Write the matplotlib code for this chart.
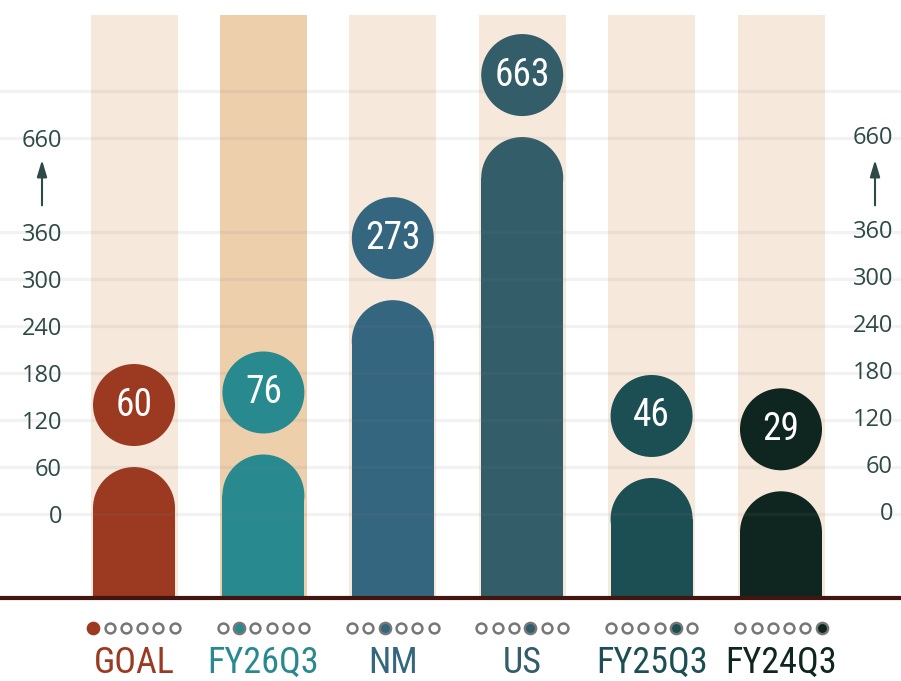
import numpy as np
import matplotlib
matplotlib.use("Agg")
import matplotlib.pyplot as plt
from matplotlib import font_manager

# data
categories = ["GOAL", "FY26Q3", "NM", "US", "FY25Q3", "FY24Q3"]
values = [60, 76, 273, 663, 46, 29]
bar_colors = ["#9b3a21", "#288a8f", "#34667f", "#335d69", "#1b4f54", "#0f2520"]
stripe_colors = ["#f7e8dc", "#edcfac", "#f7e8dc", "#f7e8dc", "#f7e8dc", "#f7e8dc"]
tick_values = [0, 60, 120, 180, 240, 300, 360, 660]
tick_labels = ["0", "60", "120", "180", "240", "300", "360", "660"]

# pick a narrow font for the big labels if there is one
names = {f.name for f in font_manager.fontManager.ttflist}
narrow = "DejaVu Sans"
for cand in ["Liberation Sans Narrow", "Roboto Condensed", "Open Sans Condensed"]:
    if cand in names:
        narrow = cand
        break
stretch = "condensed" if narrow == "DejaVu Sans" else "normal"

ink = "#2e4a47"

# broken axis: 0..360 linear, above 360 squeezed
K = 0.4
def fwd(v):
    v = np.asarray(v, dtype=float)
    return np.where(v <= 360, v, 360 + (v - 360) * K)

def inv(p):
    p = np.asarray(p, dtype=float)
    return np.where(p <= 360, p, 360 + (p - 360) / K)

fig = plt.figure(figsize=(9.01, 6.81), dpi=100)
ax = fig.add_axes([0, 83 / 681, 1, 583 / 681])
ax.set_yscale("function", functions=(fwd, inv))

y_bot = -107.2
y_top = float(inv(637.0))
ax.set_ylim(y_bot, y_top)
ax.set_xlim(-134 / 129.4, (901 - 134) / 129.4)

px_per_unit = 583 / (637.0 - y_bot)
x = np.arange(len(categories))
w_bar = 82 / 129.4
w_stripe = 87 / 129.4

# background stripes
ax.bar(x, y_top - y_bot, bottom=y_bot, width=w_stripe, color=stripe_colors, zorder=0)

# grid
grid_vals = tick_values + [810]
ax.set_yticks(grid_vals)
ax.set_yticklabels(tick_labels + [""])
ax.grid(axis="y", color="#808080", alpha=0.1, lw=2.3, zorder=1)
ax.set_axisbelow(False)
ax.tick_params(axis="y", length=0, pad=-44.6, labelsize=17, labelcolor=ink)
for lab in ax.get_yticklabels():
    lab.set_fontfamily("Open Sans")
ax.set_xticks([])
for s in ax.spines.values():
    s.set_visible(False)

for v, lab in zip(tick_values, tick_labels):
    ax.text(893 / 901, v, lab, transform=ax.get_yaxis_transform(), ha="right", va="center",
            fontsize=17, color=ink, family="Open Sans")

# arrows for the break
for xa in [42 / 901, 875 / 901]:
    ax.annotate("", xy=(xa, 590), xytext=(xa, 445),
                xycoords=ax.get_yaxis_transform(), textcoords=ax.get_yaxis_transform(),
                arrowprops=dict(arrowstyle="-|>,head_length=1.0,head_width=0.3", color=ink, lw=1.5,
                                shrinkA=0, shrinkB=0))

# bars with round tops
r_cap = 41 / px_per_unit
cap_centers = inv(fwd(values) - r_cap)
ax.bar(x, cap_centers - y_bot, bottom=y_bot, width=w_bar, color=bar_colors, zorder=2)
ax.scatter(x, cap_centers, s=(82 * 0.72) ** 2, c=bar_colors, lw=0, zorder=2)

# bubbles with the values, sitting above the bars
bub_centers = inv(fwd(values) + 62 / px_per_unit)
ax.scatter(x, bub_centers, s=(82 * 0.72) ** 2, c=bar_colors, lw=0, zorder=3, clip_on=False)
for xi, yc, v in zip(x, bub_centers, values):
    ax.text(xi, yc, str(v), ha="center", va="center", color="white", fontsize=27,
            family=narrow, stretch=stretch, zorder=4)

# baseline
ax.axhline(y_bot, color="#431510", lw=3, clip_on=False, zorder=5)

# dot indicators and category labels
xt = ax.get_xaxis_transform()
offs = (np.arange(6) - 2.5) * 16.3 / 129.4
for i, (cat, col) in enumerate(zip(categories, bar_colors)):
    for j, o in enumerate(offs):
        if j == i:
            edge = col if i == 0 else "#777777"
            ax.scatter(x[i] + o, -0.052, s=66, facecolor=col, edgecolor=edge, lw=1.7,
                       transform=xt, clip_on=False, zorder=5)
        else:
            ax.scatter(x[i] + o, -0.052, s=50, facecolor="white", edgecolor="#777777", lw=1.8,
                       transform=xt, clip_on=False, zorder=5)
    ax.text(x[i], -0.112, cat, transform=xt, ha="center", va="center", color=col,
            fontsize=26, family=narrow, stretch=stretch)

fig.savefig("out.png", dpi=100)
